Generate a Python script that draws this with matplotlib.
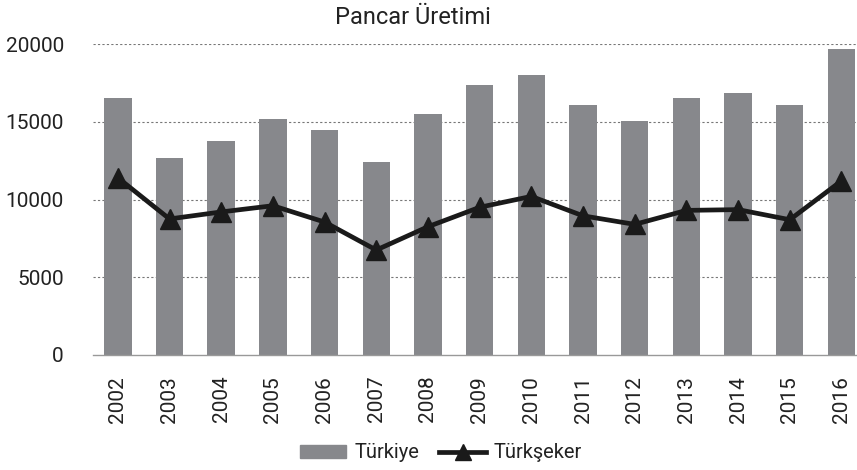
import numpy as np
import matplotlib
matplotlib.use('Agg')
import matplotlib.pyplot as plt
from matplotlib.lines import Line2D
from matplotlib.patches import Patch

# ====================
# DATOS
# ====================
yillar = ['2002', '2003', '2004', '2005', '2006', '2007', '2008', '2009',
          '2010', '2011', '2012', '2013', '2014', '2015', '2016']
turkiye = [16500, 12700, 13750, 15150, 14450, 12400, 15500, 17350,
           18000, 16100, 15050, 16500, 16850, 16050, 19700]
turkseker = [11400, 8750, 9200, 9600, 8550, 6750, 8250, 9500,
             10200, 8950, 8400, 9300, 9350, 8700, 11200]
y_ticks = [0, 5000, 10000, 15000, 20000]

plt.rcParams['font.family'] = ['Roboto', 'DejaVu Sans']

# ====================
# GRAFIK
# ====================
fig = plt.figure(figsize=(8.57, 4.70), dpi=100)
ax = fig.add_axes([93 / 857, 1 - 355 / 470, 1 - 93 / 857, (355 - 44) / 470])

x = np.arange(len(yillar))
ax.bar(x, turkiye, width=0.53, color='#87888c', zorder=2)
ax.plot(x, turkseker, color='#1a1a1a', linewidth=3.4, marker='^',
        markersize=14, zorder=3)

ax.set_xlim(-0.48, 14.3)
ax.set_ylim(0, 20000)
ax.set_yticks(y_ticks)
ax.set_xticks(x)
ax.set_xticklabels(yillar, rotation=90, fontsize=15, color='#222222')
ax.tick_params(axis='y', labelsize=15, labelcolor='#222222', length=0, pad=21)
ax.tick_params(axis='x', length=0, pad=15)

for v in y_ticks[1:]:
    ax.axhline(v, color='#777777', linestyle=(0, (2, 2)), linewidth=0.8, zorder=1)

for s in ['top', 'right', 'left']:
    ax.spines[s].set_visible(False)
ax.spines['bottom'].set_color('#999999')
ax.spines['bottom'].set_linewidth(1.0)

fig.text(413 / 857, 1 - 17 / 470, 'Pancar Üretimi', ha='center', va='center',
         fontsize=17, color='#222222')

handles = [Patch(color='#87888c', label='Türkiye'),
           Line2D([0], [0], color='#1a1a1a', linewidth=3.4, marker='^',
                  markersize=12, label='Türkşeker')]
fig.legend(handles=handles, loc='center', bbox_to_anchor=(441 / 857, 1 - 453 / 470),
           ncol=2, frameon=False, fontsize=14.5, handlelength=2.3,
           handleheight=0.6, handletextpad=0.4, columnspacing=1.0,
           labelcolor='#222222')

plt.savefig('out.png', dpi=100)
